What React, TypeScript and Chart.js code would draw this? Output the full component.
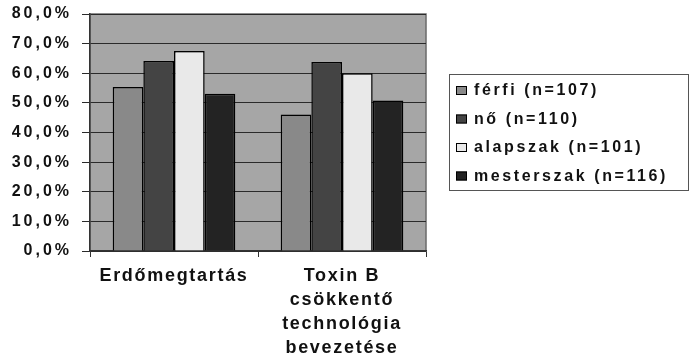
import React, { useEffect, useRef } from "react";
import { Chart, registerables } from "chart.js";

Chart.register(...registerables);

const categories: (string | string[])[] = [
  ["Erdőmegtartás"],
  ["Toxin B", "csökkentő", "technológia", "bevezetése"],
];
const seriesLabels = ["férfi (n=107)", "nő (n=110)", "alapszak (n=101)", "mesterszak (n=116)"];
const ferfi = [55.4, 46.1];
const no = [64.1, 63.8];
const alapszak = [67.5, 60.0];
const mesterszak = [53.1, 50.8];
const seriesColors = ["#898989", "#444444", "#e9e9e9", "#232323"];
const yMin = 0;
const yMax = 80;
const yStep = 10;

const FONT = "'Liberation Sans', Arial, sans-serif";

function withSpacing(scale: any, spacing: string) {
  if (scale.__wrapped) return;
  scale.__wrapped = true;
  const orig = scale.drawLabels;
  scale.drawLabels = function (area: any) {
    const ctx = this.ctx;
    ctx.save();
    ctx.letterSpacing = spacing;
    orig.call(this, area);
    ctx.restore();
  };
}

const bgPlugin = {
  id: "bg",
  afterLayout(chart: any) {
    withSpacing(chart.scales.y, "3px");
    withSpacing(chart.scales.x, "1.7px");
  },
  beforeDraw(chart: any) {
    const ctx = chart.ctx;
    const a = chart.chartArea;
    ctx.save();
    ctx.fillStyle = "#a6a6a6";
    ctx.fillRect(a.left, a.top, a.right - a.left, a.bottom - a.top);
    ctx.strokeStyle = "#6a6a6a";
    ctx.lineWidth = 1.5;
    ctx.strokeRect(a.left, a.top, a.right - a.left, a.bottom - a.top);
    ctx.restore();
  },
};

const legendPlugin = {
  id: "boxLegend",
  afterDraw(chart: any) {
    const ctx = chart.ctx;
    ctx.save();
    ctx.letterSpacing = "2.6px";
    const x0 = 449, y0 = 74, w = 239, h = 116;
    ctx.fillStyle = "#ffffff";
    ctx.fillRect(x0, y0, w, h);
    ctx.strokeStyle = "#555555";
    ctx.lineWidth = 1;
    ctx.strokeRect(x0 + 0.5, y0 + 0.5, w, h);
    ctx.font = `bold 16px ${FONT}`;
    ctx.textBaseline = "middle";
    ctx.textAlign = "left";
    chart.data.datasets.forEach((ds: any, i: number) => {
      const cy = y0 + 16 + i * 28.5;
      ctx.fillStyle = ds.backgroundColor;
      ctx.fillRect(x0 + 7, cy - 4, 11, 9);
      ctx.strokeStyle = "#000";
      ctx.lineWidth = 1;
      ctx.strokeRect(x0 + 7.5, cy - 3.5, 10, 8);
      ctx.fillStyle = "#111111";
      ctx.fillText(ds.label, x0 + 25, cy + 1);
    });
    ctx.restore();
  },
};

export default function App() {
  const ref = useRef<HTMLCanvasElement | null>(null);
  useEffect(() => {
    document.body.style.margin = "0";
    const values = [ferfi, no, alapszak, mesterszak];
    const chart = new Chart(ref.current as HTMLCanvasElement, {
      type: "bar",
      data: {
        labels: categories as any,
        datasets: values.map((v, i) => ({
          label: seriesLabels[i],
          data: v,
          backgroundColor: seriesColors[i],
          borderColor: "#000000",
          borderWidth: 1.5,
          categoryPercentage: 0.73,
          barPercentage: 1.0,
        })),
      },
      options: {
        responsive: false,
        animation: false,
        devicePixelRatio: 1,
        layout: { padding: { top: 14, right: 265, left: 0, bottom: 0 } },
        plugins: { legend: { display: false }, tooltip: { enabled: false } },
        scales: {
          x: {
            grid: {
              offset: true,
              drawOnChartArea: false,
              color: "#333333",
              tickLength: 6,
            },
            border: { color: "#333333", width: 1.5 },
            ticks: {
              color: "#111111",
              font: { family: FONT, size: 18, weight: "bold", lineHeight: 1.33 },
              padding: 7,
              maxRotation: 0,
              autoSkip: false,
            },
            afterFit(scale: any) {
              scale.height = 108;
            },
          },
          y: {
            min: yMin,
            max: yMax,
            grid: { color: "#2a2a2a", lineWidth: 1, tickLength: 8 },
            border: { color: "#333333", width: 1.5 },
            ticks: {
              stepSize: yStep,
              color: "#111111",
              font: { family: FONT, size: 16, weight: "bold" },
              padding: 10,
              callback: (v: any) => Number(v).toFixed(1).replace(".", ",") + "%",
            },
            afterFit(scale: any) {
              scale.width = 90;
              scale.paddingTop = 0;
              scale.paddingBottom = 0;
            },
          },
        },
      },
      plugins: [bgPlugin, legendPlugin],
    } as any);
    return () => chart.destroy();
  }, []);
  return (
    <div style={{ position: "absolute", left: 0, top: 0, width: 691, height: 359 }}>
      <canvas ref={ref} width={691} height={359} />
    </div>
  );
}
